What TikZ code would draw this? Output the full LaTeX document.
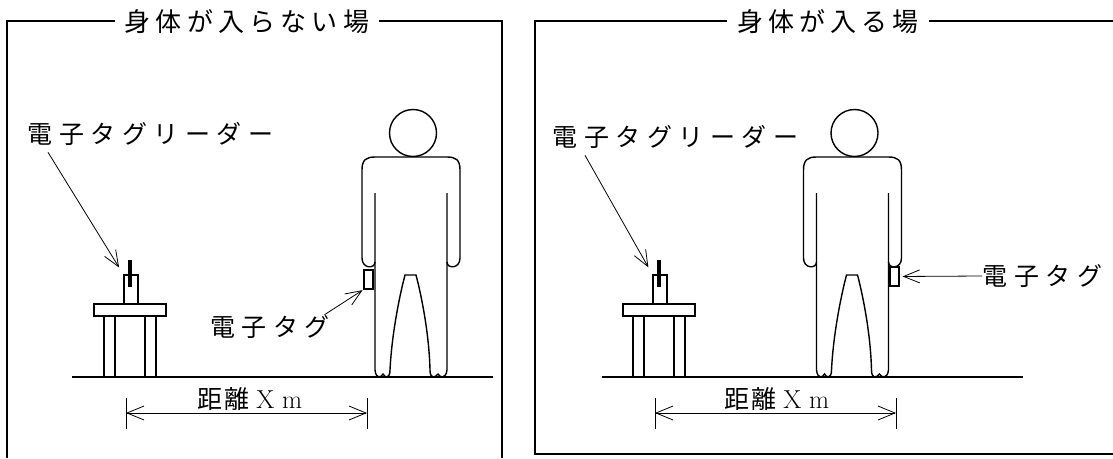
\documentclass[tikz,border=0pt]{standalone}
\usepackage{fontspec}
\usepackage{tikz}
\usetikzlibrary{arrows.meta}
\newfontfamily\jp[LetterSpace=26]{Noto Sans CJK JP}
\newfontfamily\jpwide[LetterSpace=20]{Noto Sans CJK JP}
\newfontfamily\jpnarrow[LetterSpace=6]{Noto Sans CJK JP}

\begin{document}
\begin{tikzpicture}[x = 1pt, y = -1pt, line width = 1.4pt,
                    frame/.style = {line width = 1.8pt},
                    title/.style = {font = \fontsize{26}{26}\selectfont\jpwide, fill = white, inner xsep = 10pt, inner ysep = 2pt},
                    label/.style = {font = \fontsize{25}{25}\selectfont\jp, inner sep = 0pt},
                    dist/.style = {font = \fontsize{25}{25}\selectfont\jpnarrow, inner sep = 0pt},
                    reader/.style = {rectangle, draw, minimum width = 14pt, minimum height = 29pt, inner sep = 0pt},
                    tag/.style = {rectangle, draw, line width = 1.2pt, minimum width = 9pt, minimum height = 19pt, inner sep = 0pt},
                    leader/.style = {line width = 0.8pt, shorten > = 1pt, -{Straight Barb[length = 16pt, width = 13pt]}},
                    span/.style = {line width = 0.8pt, {Straight Barb[length = 17pt, width = 14pt]}-{Straight Barb[length = 17pt, width = 14pt]}}]
  \useasboundingbox (0, 0) rectangle (1113, 458);

  % the two frames
  \draw [frame] (7, 458) -- (7, 21) -- (502, 21) -- (502, 458);
  \draw [frame] (1113, 21) -- (535, 21) -- (535, 454) -- (1113, 454);
  \node [title] (ttlA) at (247, 22) {身体が入らない場};
  \node [title] (ttlB) at (828, 22) {身体が入る場};

  % floor, table and person in each frame
  \foreach \t/\p/\g in {130/411/72, 659/852.5/602} {
    \draw (\g, 377) -- (\g + 421, 377);
    \draw (\t - 36, 304) rectangle (\t + 36, 316);
    \draw (\t - 26, 316) rectangle (\t - 15, 377);
    \draw (\t + 15, 316) rectangle (\t + 26, 377);
    \draw [line width = 3.5pt] (\t, 260) -- (\t, 287);
    \begin{scope}[shift = {(\p, 0)}]
      \draw (2, 133) circle (23.5);
      \draw (-36, 262) .. controls (-36, 269) and (-49, 269) .. (-49, 258) -- (-49, 170)
            .. controls (-49, 160) and (-45, 157) .. (-36, 157) -- (36, 157)
            .. controls (45, 157) and (49, 160) .. (49, 170) -- (49, 258)
            .. controls (49, 269) and (36, 269) .. (36, 262);
      \draw (-36, 193) -- (-36, 370) .. controls (-35, 379) and (-30, 378) .. (-28, 374)
            .. controls (-26, 378) and (-21, 379) .. (-21, 370)
            .. controls (-19, 330) and (-10, 290) .. (-6, 275) -- (5, 275)
            .. controls (9, 290) and (18, 330) .. (19, 370)
            .. controls (19, 379) and (24, 378) .. (27, 374)
            .. controls (29, 378) and (35, 379) .. (36, 370) -- (36, 193);
    \end{scope}
  }

  % readers and tags
  \node [reader] (rdA) at (131, 289.5){};
  \node [reader] (rdB) at (660, 289.5){};
  \node [tag, fill = white] (tagA) at (368.5, 279.5){};
  \node [tag, fill = white] (tagB) at (894.5, 276.5){};

  % labels
  \node [label, anchor = west] (rdlabA) at (27, 134) {電子タグリーダー};
  \node [label, anchor = west] (rdlabB) at (552, 137) {電子タグリーダー};
  \node [label] (tglabA) at (270, 327) {電子タグ};
  \node [label, anchor = west] (tglabB) at (982, 276) {電子タグ};
  \draw [leader, shorten > = 8pt] ([xshift = 21pt, yshift = -6pt]rdlabA.south west) -- (rdA.north west);
  \draw [leader, shorten > = 8pt] ([xshift = 33pt, yshift = -6pt]rdlabB.south west) -- (rdB.north west);
  \draw [leader] ([xshift = -6pt]tglabA.north east) -- (tagA.south west);
  \draw [leader, shorten > = 3pt] (tglabB.west) -- (tagB.east);

  % distance between reader and tag
  \coordinate (sA1) at (126, 413);
  \coordinate (sA2) at (367, 413);
  \coordinate (sB1) at (655, 413);
  \coordinate (sB2) at (896, 413);
  \foreach \x in {126, 367, 655, 896}
    \draw [line width = 0.8pt] (\x, 398) -- (\x, 429);
  \draw [span] (sA1) -- (sA2);
  \draw [span] (sB1) -- (sB2);
  \node [dist] (dlabA) at (250, 399) {距離 {\rmfamily\fontsize{26}{26}\selectfont X m}};
  \node [dist] (dlabB) at (777, 399) {距離 {\rmfamily\fontsize{26}{26}\selectfont X m}};
\end{tikzpicture}
\end{document}
